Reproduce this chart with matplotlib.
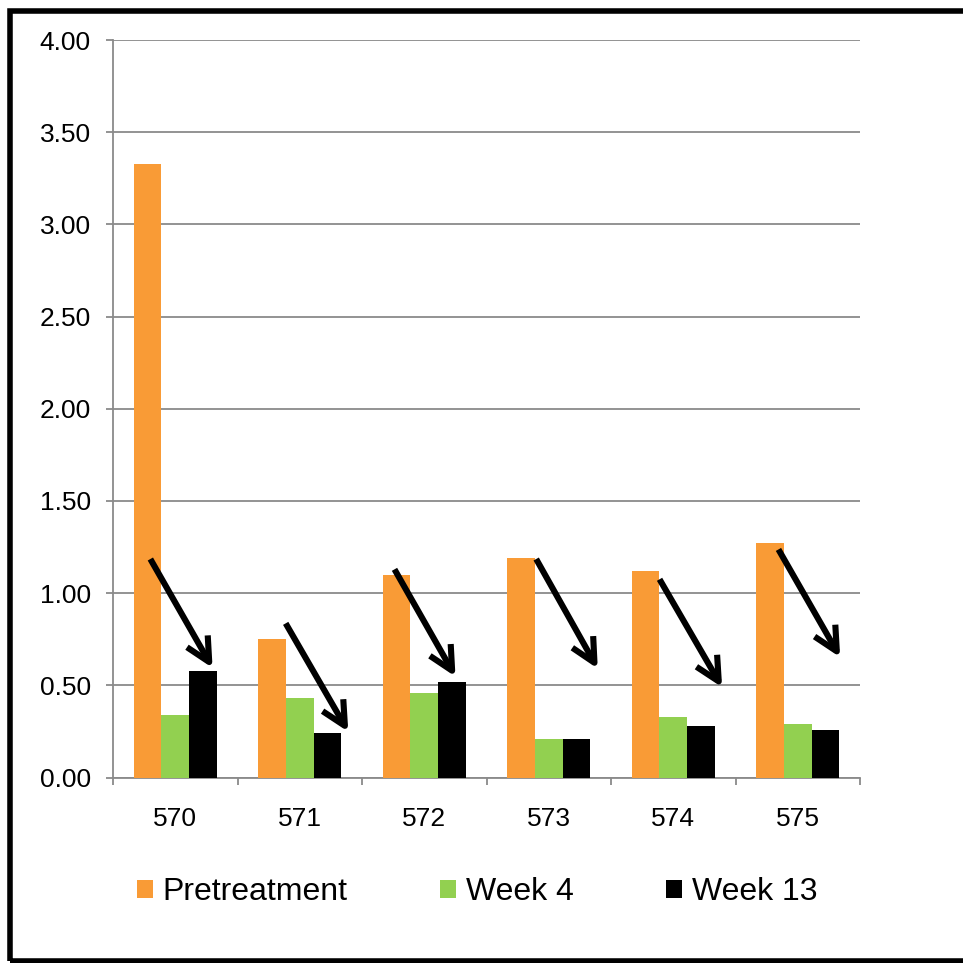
import matplotlib
matplotlib.use("Agg")
import matplotlib.pyplot as plt
from matplotlib.patches import Rectangle
import numpy as np

plt.rcParams['font.family'] = ['Liberation Sans', 'DejaVu Sans']

categories = ["570", "571", "572", "573", "574", "575"]
pretreatment = [3.33, 0.75, 1.10, 1.19, 1.12, 1.27]
week4 = [0.34, 0.43, 0.46, 0.21, 0.33, 0.29]
week13 = [0.58, 0.24, 0.52, 0.21, 0.28, 0.26]
series_names = ["Pretreatment", "Week 4", "Week 13"]
y_ticks = [0.0, 0.5, 1.0, 1.5, 2.0, 2.5, 3.0, 3.5, 4.0]

# downward trend arrows: (x_start, y_start, x_end, y_end) in data units
trend_arrows = [
    (-0.20, 1.185, 0.30, 0.594),
    (0.887, 0.836, 1.39, 0.248),
    (1.761, 1.129, 2.251, 0.547),
    (2.899, 1.185, 3.394, 0.590),
    (3.890, 1.075, 4.393, 0.489),
    (4.845, 1.237, 5.341, 0.652),
]

colors = ["#F99B36", "#92D050", "#000000"]

W = H = 963
fig = plt.figure(figsize=(W / 100, H / 100), dpi=100)
ax = fig.add_axes([113 / W, 1 - 777.5 / H, (860 - 113) / W, (777.5 - 40) / H])

x = np.arange(len(categories))
bw = 0.222
for k, (vals, c, name) in enumerate(zip([pretreatment, week4, week13], colors, series_names)):
    ax.bar(x + (k - 1) * bw, vals, width=bw, color=c, label=name, zorder=3)

ax.set_xlim(-0.5, len(categories) - 0.5)
ax.set_ylim(0, 4.0)
ax.set_yticks(y_ticks)
ax.set_yticklabels([f"{v:.2f}" for v in y_ticks])
ax.set_xticks(x)
ax.set_xticklabels(categories)
ax.set_xticks(np.arange(len(categories) + 1) - 0.5, minor=True)

grid_c = "#8A8A8A"
ax.yaxis.grid(True, color=grid_c, lw=1.3, zorder=0)
ax.set_axisbelow(True)
for s in ["top", "right"]:
    ax.spines[s].set_visible(False)
for s in ["left", "bottom"]:
    ax.spines[s].set_color(grid_c)
    ax.spines[s].set_linewidth(1.3)

ax.tick_params(axis="y", which="major", length=5, width=1.3, color=grid_c,
               labelsize=19, pad=11)
ax.tick_params(axis="x", which="major", length=0, labelsize=19, pad=21)
ax.tick_params(axis="x", which="minor", length=5, width=1.3, color=grid_c)

for (x0, y0, x1, y1) in trend_arrows:
    ax.annotate("", xy=(x1, y1), xytext=(x0, y0),
                arrowprops=dict(arrowstyle="->,head_length=0.86,head_width=0.43",
                                lw=4.4, color="black", shrinkA=0, shrinkB=0,
                                mutation_scale=20, capstyle="butt"),
                zorder=5)

handles, labels = ax.get_legend_handles_labels()
fig.legend(handles, labels, loc="center left",
           bbox_to_anchor=(137 / W, 1 - 892 / H), ncol=3, frameon=False,
           fontsize=23, handlelength=0.5, handleheight=0.5,
           handletextpad=0.3, columnspacing=2.9, borderpad=0, borderaxespad=0)

# outer frame
fig.patches.append(Rectangle((9.5 / W, 1 - 961 / H), (975 - 9.5) / W, (961 - 10.8) / H,
                             transform=fig.transFigure, fill=False,
                             edgecolor="black", lw=4))

fig.savefig("out.png", dpi=100)
